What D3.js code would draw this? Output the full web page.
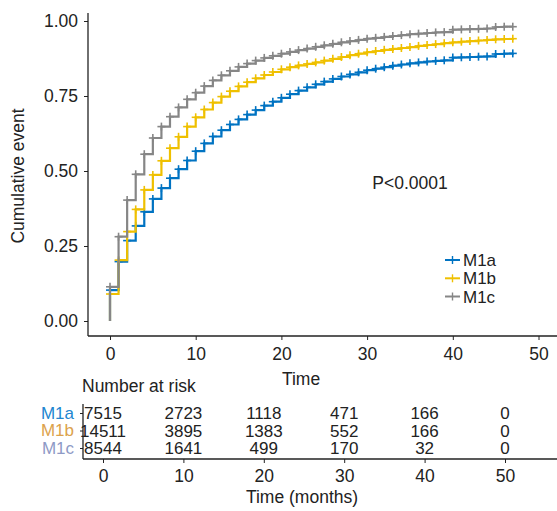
<!DOCTYPE html>
<html><head><meta charset="utf-8">
<script src="https://cdn.jsdelivr.net/npm/d3@7"></script>
<style>
body{margin:0;background:#fff;}
svg text{font-family:"Liberation Sans",Arial,Helvetica,sans-serif;fill:#222;}
</style></head>
<body><svg id="c" width="557" height="511"></svg>
<script>
const groups = ["M1a","M1b","M1c"];
const colors = ["#0073C2","#EFC000","#868686"];
const riskLabelColors = ["#2186d0","#dca24c","#8e9ac6"];
const months = d3.range(0,48);
const m1a = [0.103,0.198,0.268,0.317,0.364,0.407,0.443,0.476,0.506,0.535,0.566,0.592,0.615,0.636,0.655,0.672,0.688,0.703,0.718,0.731,0.744,0.756,0.768,0.779,0.789,0.798,0.807,0.815,0.822,0.829,0.836,0.841,0.846,0.851,0.855,0.859,0.862,0.865,0.867,0.869,0.878,0.879,0.880,0.881,0.882,0.890,0.891,0.892];
const m1b = [0.090,0.203,0.298,0.372,0.437,0.487,0.534,0.576,0.614,0.648,0.679,0.705,0.728,0.748,0.766,0.782,0.796,0.809,0.820,0.830,0.839,0.846,0.852,0.857,0.862,0.868,0.874,0.880,0.886,0.891,0.896,0.900,0.904,0.907,0.910,0.913,0.917,0.920,0.923,0.926,0.929,0.931,0.933,0.935,0.937,0.939,0.940,0.941];
const m1c = [0.114,0.281,0.403,0.489,0.556,0.610,0.648,0.681,0.712,0.739,0.761,0.783,0.802,0.819,0.834,0.847,0.858,0.868,0.877,0.884,0.891,0.897,0.903,0.908,0.914,0.919,0.924,0.929,0.933,0.937,0.941,0.944,0.947,0.950,0.953,0.956,0.958,0.960,0.962,0.963,0.971,0.972,0.973,0.974,0.975,0.980,0.981,0.981];
const series = [m1a,m1b,m1c];
const xTicks = [0,10,20,30,40,50];
const yTicks = [0,0.25,0.5,0.75,1];
const riskTimes = [0,10,20,30,40,50];
const riskM1a = [7515,2723,1118,471,166,0];
const riskM1b = [14511,3895,1383,552,166,0];
const riskM1c = [8544,1641,499,170,32,0];
const riskRows = [riskM1a,riskM1b,riskM1c];

const svg = d3.select("#c");
const FS = 17.5;
const x = d3.scaleLinear().domain([0,50]).range([110,538.5]);
const y = d3.scaleLinear().domain([0,1]).range([321,21]);

// axes main
const gx = svg.append("g").attr("transform","translate(0,336)")
  .call(d3.axisBottom(x).tickValues(xTicks).tickSize(4).tickPadding(8).tickSizeOuter(0));
gx.select(".domain").remove();
gx.selectAll("text").style("font-size",FS+"px");
svg.append("line").attr("x1",88).attr("x2",557).attr("y1",336).attr("y2",336).attr("stroke","#222").attr("stroke-width",1.3);
const gy = svg.append("g").attr("transform","translate(88,0)")
  .call(d3.axisLeft(y).tickValues(yTicks).tickFormat(d3.format(".2f")).tickSize(4).tickPadding(6).tickSizeOuter(0));
gy.select(".domain").remove();
gy.selectAll("text").style("font-size",FS+"px");
svg.append("line").attr("x1",88).attr("x2",88).attr("y1",13).attr("y2",336).attr("stroke","#222").attr("stroke-width",1.3);
svg.selectAll(".tick line").attr("stroke","#222");

svg.append("text").attr("transform","translate(24,176) rotate(-90)").attr("text-anchor","middle")
  .style("font-size",FS+"px").text("Cumulative event");
svg.append("text").attr("x",301).attr("y",385).attr("text-anchor","middle").style("font-size",FS+"px").text("Time");

// curves
series.forEach((vals,i)=>{
  const pts = [[0,0]];
  months.forEach((t,k)=>{ if(k>0) pts.push([t,vals[k-1]]); pts.push([t,vals[k]]); });
  svg.append("path").datum(pts)
    .attr("d", d3.line().x(d=>x(d[0])).y(d=>y(d[1])))
    .attr("fill","none").attr("stroke",colors[i]).attr("stroke-width",2.2);
  const g = svg.append("g");
  months.forEach((t,k)=>{
    const cx = x(t), cy = y(vals[k]);
    g.append("line").attr("x1",cx-4).attr("x2",cx+4).attr("y1",cy).attr("y2",cy).attr("stroke",colors[i]).attr("stroke-width",1.6);
    g.append("line").attr("x1",cx).attr("x2",cx).attr("y1",cy-4).attr("y2",cy+4).attr("stroke",colors[i]).attr("stroke-width",1.6);
  });
});

svg.append("text").attr("x",410).attr("y",189).attr("text-anchor","middle").style("font-size",FS+"px").text("P<0.0001");

// legend
const legY = [260,278.3,296.5];
groups.forEach((gname,i)=>{
  svg.append("line").attr("x1",445).attr("x2",460).attr("y1",legY[i]).attr("y2",legY[i]).attr("stroke",colors[i]).attr("stroke-width",2);
  svg.append("line").attr("x1",452.5).attr("x2",452.5).attr("y1",legY[i]-4).attr("y2",legY[i]+4).attr("stroke",colors[i]).attr("stroke-width",1.4);
  svg.append("text").attr("x",463).attr("y",legY[i]).attr("dy","0.36em").style("font-size","17px").text(gname);
});

// risk table
const xr = d3.scaleLinear().domain([0,50]).range([103,505]);
const rowY = d3.scalePoint().domain(groups).range([413,448]);
svg.append("text").attr("x",82).attr("y",392).style("font-size",FS+"px").text("Number at risk");
const gxr = svg.append("g").attr("transform","translate(0,459)")
  .call(d3.axisBottom(xr).tickValues(xTicks).tickSize(4).tickPadding(7).tickSizeOuter(0));
gxr.select(".domain").remove();
gxr.selectAll("text").style("font-size",FS+"px");
gxr.selectAll(".tick line").attr("stroke","#222");
svg.append("line").attr("x1",83).attr("x2",557).attr("y1",459).attr("y2",459).attr("stroke","#222").attr("stroke-width",1.3);
const gyr = svg.append("g").attr("transform","translate(83,0)")
  .call(d3.axisLeft(rowY).tickSize(3).tickPadding(6).tickSizeOuter(0));
gyr.select(".domain").remove();
gyr.selectAll(".tick line").attr("stroke","#222");
gyr.selectAll("text").style("font-size","17px").style("fill",(d,i)=>riskLabelColors[i]);
svg.append("line").attr("x1",83).attr("x2",83).attr("y1",404).attr("y2",459).attr("stroke","#222").attr("stroke-width",1.3);
riskRows.forEach((row,i)=>{
  row.forEach((n,j)=>{
    svg.append("text").attr("x",xr(riskTimes[j])).attr("y",rowY(groups[i])).attr("dy","0.36em")
      .attr("text-anchor","middle").style("font-size","17px").text(n);
  });
});
svg.append("text").attr("x",302).attr("y",503).attr("text-anchor","middle").style("font-size",FS+"px").text("Time (months)");
</script></body></html>
